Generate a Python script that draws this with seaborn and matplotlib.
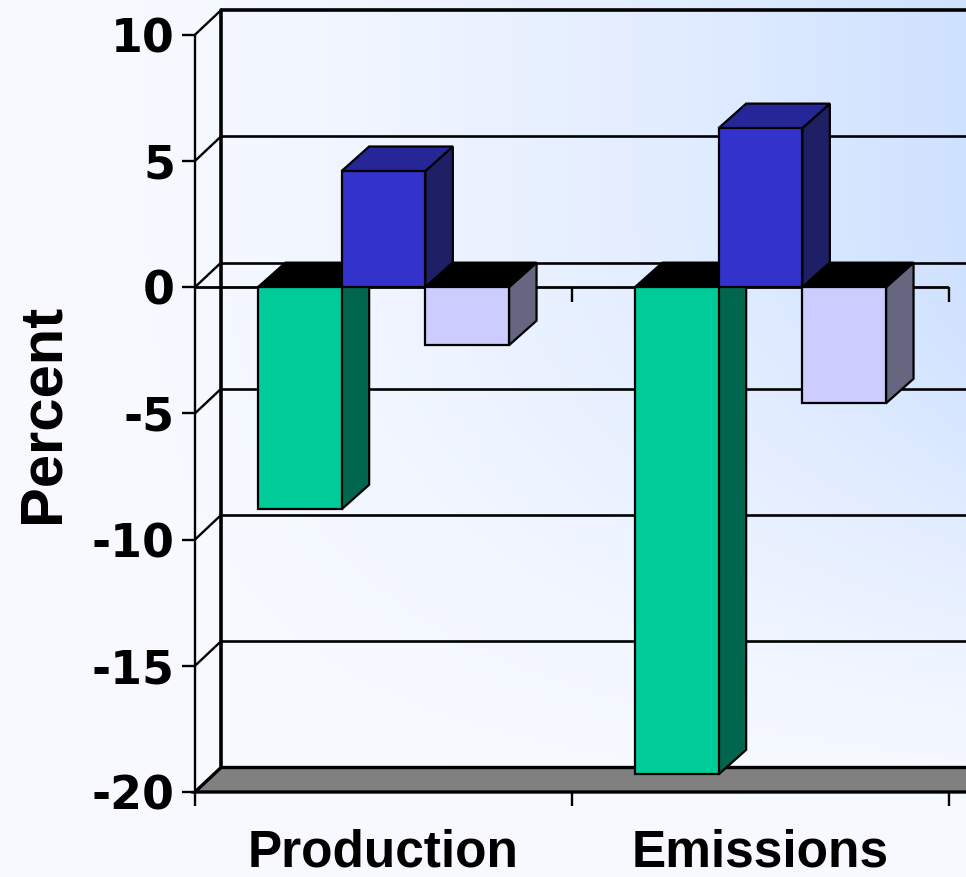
import numpy as np
import pandas as pd
import matplotlib
matplotlib.use("Agg")
import matplotlib.pyplot as plt
from matplotlib.patches import Polygon
import seaborn as sns

# ---- data -------------------------------------------------------------
categories = ["Production", "Emissions"]
series = ["Series 1", "Series 2", "Series 3"]
series_1 = [-8.8, -19.3]
series_2 = [4.6, 6.3]
series_3 = [-2.3, -4.6]
y_ticks = [10, 5, 0, -5, -10, -15, -20]
y_tick_labels = ["10", "5", "0", "-5", "-10", "-15", "-20"]

# ---- styling ----------------------------------------------------------
front_colors = ["#00CC99", "#3333CC", "#CCCCFF"]
side_colors = ["#00664D", "#1F1F66", "#666680"]
top_colors = ["#00A37A", "#262699", "#A3A3CC"]
floor_color = "#808080"
bg_light = np.array([248, 250, 255]) / 255
bg_blue = np.array([204, 224, 255]) / 255

W_PX, H_PX = 966, 877
WALL_DEPTH_PX = (26.0, 24.5)
BAR_DEPTH_PX = (27.5, 24.5)

sns.set_theme(style="white")
plt.rcParams["font.family"] = ["Liberation Sans", "DejaVu Sans"]
plt.rcParams.update({"text.color": "black", "axes.labelcolor": "black",
                     "xtick.color": "black", "ytick.color": "black"})

rows = []
for name, vals in zip(series, [series_1, series_2, series_3]):
    for cat, v in zip(categories, vals):
        rows.append({"category": cat, "series": name, "value": v})
df = pd.DataFrame(rows)

fig = plt.figure(figsize=(W_PX / 100, H_PX / 100), dpi=100)

# diagonal background wash: pale at bottom-left, light blue towards top-right
bg = fig.add_axes([0, 0, 1, 1], zorder=-1)
bg.axis("off")
xs = np.linspace(0, 1, W_PX)
ys = np.linspace(0, 1, H_PX)
X, Y = np.meshgrid(xs, ys)
u = np.clip(Y / 0.75, 0, 1)
t = 0.95 * X ** 1.7 * (u * u * (3 - 2 * u))
img = bg_light[None, None, :] * (1 - t[..., None]) + bg_blue[None, None, :] * t[..., None]
bg.imshow(img, origin="lower", extent=[0, 1, 0, 1], aspect="auto", interpolation="bilinear")

ax = fig.add_axes([195 / W_PX, 85 / H_PX, 754 / W_PX, 757.3 / H_PX])
ax.set_facecolor("none")

sns.barplot(data=df, x="category", y="value", hue="series", order=categories,
            hue_order=series, palette=front_colors, saturation=1, width=0.666,
            gap=0, edgecolor="black", linewidth=1.6, errorbar=None,
            legend=False, ax=ax)

ax.set_xlim(-0.5, 1.5)
ax.set_ylim(-20, 10)

# depth offsets in data units
p0 = ax.transData.transform((0, 0))
p1 = ax.transData.transform((1, 1))
px_x, px_y = p1[0] - p0[0], p1[1] - p0[1]
wdx, wdy = WALL_DEPTH_PX[0] / px_x, WALL_DEPTH_PX[1] / px_y
bdx, bdy = BAR_DEPTH_PX[0] / px_x, BAR_DEPTH_PX[1] / px_y

x_left, x_right = -0.5, 1.5
y_bot, y_top = -20, 10

# back wall: gridlines, left back edge and side-wall diagonals
for v in y_ticks[:-1]:
    lw = 2.6 if v == y_top else 1.9
    ax.plot([x_left + wdx, x_right + wdx + 0.3], [v + wdy, v + wdy],
            color="black", lw=lw, clip_on=False, zorder=2, solid_capstyle="butt")
    ax.plot([x_left, x_left + wdx], [v, v + wdy], color="black", lw=1.7,
            clip_on=False, zorder=2)
ax.plot([x_left + wdx, x_left + wdx], [y_bot + wdy, y_top + wdy], color="black",
        lw=2.6, clip_on=False, zorder=2)

# floor
floor = Polygon([(x_left, y_bot), (x_right + 0.3, y_bot),
                 (x_right + 0.3 + wdx, y_bot + wdy), (x_left + wdx, y_bot + wdy)],
                closed=True, facecolor=floor_color, edgecolor="black", lw=2.4,
                clip_on=False, zorder=3)
ax.add_patch(floor)

# front zero line with category separators
ax.axhline(0, color="black", lw=2.0, zorder=5)
ax.vlines([0.5, 1.5], -15 / px_y, 0, color="black", lw=1.7, zorder=5, clip_on=False)

# extrude bars: side and top faces
for h, container in enumerate(ax.containers):
    for bar in container:
        x0 = bar.get_x()
        x1 = x0 + bar.get_width()
        v = bar.get_height()
        top = max(v, 0)
        bot = min(v, 0)
        bar.set_zorder(10 + 2 * h + 1)
        side = Polygon([(x1, bot), (x1, top), (x1 + bdx, top + bdy), (x1 + bdx, bot + bdy)],
                       closed=True, facecolor=side_colors[h], edgecolor="black",
                       lw=1.6, zorder=10 + 2 * h, clip_on=False)
        cap_color = top_colors[h] if v > 0 else "black"
        cap = Polygon([(x0, top), (x1, top), (x1 + bdx, top + bdy), (x0 + bdx, top + bdy)],
                      closed=True, facecolor=cap_color, edgecolor="black",
                      lw=1.6, zorder=10 + 2 * h, clip_on=False)
        ax.add_patch(side)
        ax.add_patch(cap)

# axes, ticks and labels
for s in ["top", "right", "bottom"]:
    ax.spines[s].set_visible(False)
ax.spines["left"].set_visible(True)
ax.spines["left"].set_color("black")
ax.spines["left"].set_linewidth(1.7)
ax.spines["left"].set_zorder(6)

ax.set_yticks(y_ticks, labels=y_tick_labels)
ax.tick_params(axis="y", left=True, length=9.4, width=1.7, direction="out",
               pad=5, labelsize=33, color="black")
for lbl in ax.get_yticklabels():
    lbl.set_fontfamily("DejaVu Sans")
    lbl.set_fontweight("bold")

ax.set_xticks([0, 1], labels=categories)
ax.set_xticks([-0.5, 0.5, 1.5], minor=True)
ax.tick_params(axis="x", which="major", bottom=False, length=0, pad=26, labelsize=37)
ax.tick_params(axis="x", which="minor", bottom=True, length=10, width=1.7,
               direction="out", color="black")
for lbl in ax.get_xticklabels():
    lbl.set_fontweight("bold")

ax.set_xlabel("")
ax.set_ylabel("Percent", fontsize=43, fontweight="bold")
ax.yaxis.set_label_coords(-0.165, 0.5)

fig.savefig("out.png", dpi=100)
